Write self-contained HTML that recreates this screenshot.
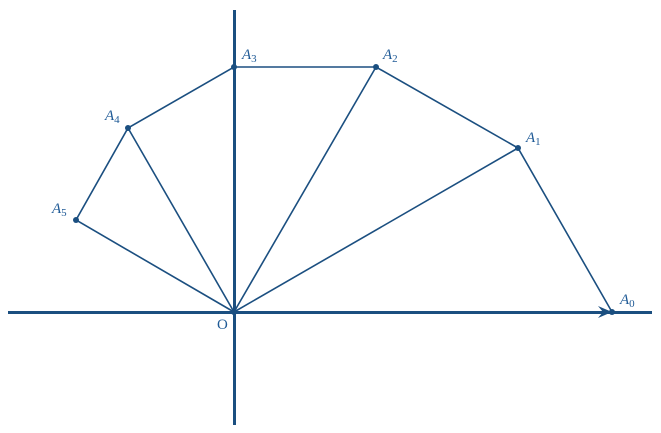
<!DOCTYPE html>
<html><head><meta charset="utf-8"><style>
html,body{margin:0;padding:0;background:#fff;}
svg{display:block;}
text{font-family:"Liberation Serif",serif;fill:#1f5a96;}
</style></head><body>
<svg width="661" height="433" viewBox="0 0 661 433" xmlns="http://www.w3.org/2000/svg">
<g stroke="#1b4f80" fill="none">
<line x1="8" y1="312.5" x2="652" y2="312.5" stroke-width="3"/>
<line x1="234.5" y1="10" x2="234.5" y2="425" stroke-width="3"/>
<g stroke-width="1.6">
<polyline points="612,312 518,148 376,67 234,67 128,128 76,220 234,312"/>
<line x1="234" y1="312" x2="518" y2="148"/>
<line x1="234" y1="312" x2="376" y2="67"/>
<line x1="234" y1="312" x2="128" y2="128"/>
</g>
</g>
<path d="M598,306 L612,312 L598,318 L603,312 Z" fill="#1b4f80"/>
<g fill="#1b4f80">
<circle cx="612" cy="312" r="3"/><circle cx="518" cy="148" r="3"/>
<circle cx="376" cy="67" r="3"/><circle cx="234" cy="67" r="3"/>
<circle cx="128" cy="128" r="3"/><circle cx="76" cy="220" r="3"/>
<circle cx="234" cy="312" r="3"/>
</g>
<g font-size="15" font-style="italic">
<text x="620" y="304">A<tspan font-size="11" font-style="normal" dy="3">0</tspan></text>
<text x="526" y="142">A<tspan font-size="11" font-style="normal" dy="3">1</tspan></text>
<text x="383" y="59">A<tspan font-size="11" font-style="normal" dy="3">2</tspan></text>
<text x="242" y="59">A<tspan font-size="11" font-style="normal" dy="3">3</tspan></text>
<text x="105" y="120">A<tspan font-size="11" font-style="normal" dy="3">4</tspan></text>
<text x="52" y="213">A<tspan font-size="11" font-style="normal" dy="3">5</tspan></text>
</g>
<text x="217" y="329" font-size="15">O</text>
</svg>
</body></html>
